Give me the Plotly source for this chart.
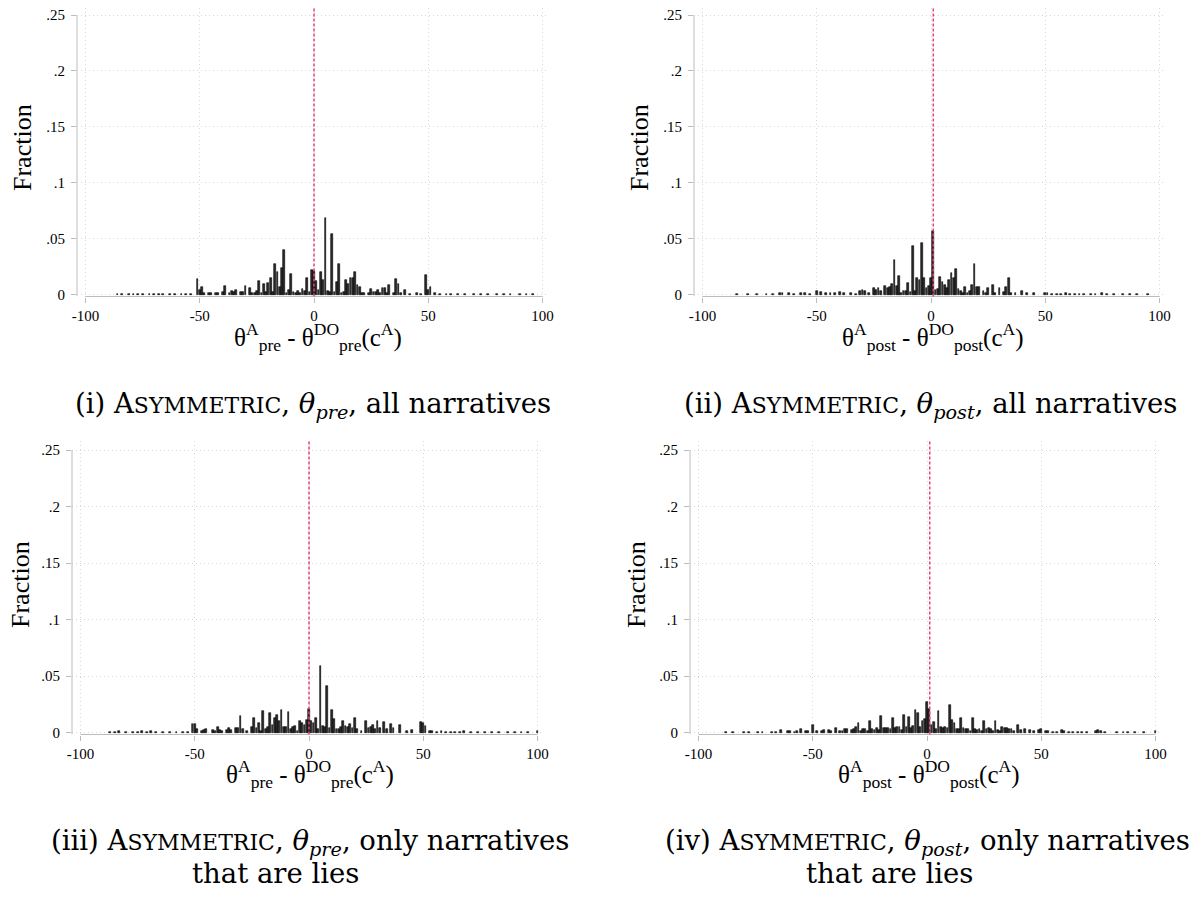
import plotly.graph_objects as go

# page is rendered inside <body> with an 8px default margin
OFF = 8
FW, FH = 1197 - 2 * OFF, 897 - 2 * OFF

# ---------------- data (fraction per integer bin) ----------------
p1_x = [-86, -84, -81, -79, -77, -75, -72, -70, -68, -66, -63, -61, -58, -56, -54,
        -51, -50, -49, -48, -46, -45, -43, -42, -40, -39, -37, -36, -35, -34, -32, -31, -30,
        -28, -27, -26, -25, -24, -23, -22, -21, -20, -19, -18, -17, -16, -15, -14, -13, -12,
        -11, -10, -9, -8, -7, -6, -5, -4, -3, -2, -1, 0, 1, 2, 3, 4, 5, 6, 7, 8, 9, 10, 11,
        12, 13, 14, 15, 16, 17, 18, 19, 20, 21, 22, 24, 25, 26, 27, 28, 29, 30, 31, 32, 33,
        35, 36, 37, 38, 40, 42, 45, 47, 49, 50, 51, 53, 55, 58, 60, 63, 66, 70, 73, 76, 80,
        83, 86, 90, 93, 96]
p1_y = [0.0005, 0.0008, 0.0005, 0.0008, 0.0008, 0.0005, 0.0008, 0.0005, 0.0008, 0.0005, 0.0008, 0.0005, 0.0008, 0.0005, 0.0008,
        0.0135, 0.0036, 0.0069, 0.001, 0.001, 0.001, 0.001, 0.0015, 0.002, 0.0078, 0.001, 0.0033, 0.002, 0.004, 0.0018, 0.002, 0.0075,
        0.0057, 0.001, 0.001, 0.0027, 0.0123, 0.001, 0.0096, 0.002, 0.0105, 0.0147, 0.002, 0.027, 0.0198, 0.0066, 0.024, 0.040, 0.001,
        0.004, 0.018, 0.002, 0.001, 0.003, 0.0015, 0.005, 0.0027, 0.015, 0.002, 0.022, 0.021, 0.012, 0.004, 0.020, 0.013, 0.068, 0.003, 0.002, 0.054, 0.002, 0.011, 0.0275,
        0.0015, 0.002, 0.013, 0.009, 0.0147, 0.0144, 0.020, 0.0084, 0.0066, 0.001, 0.0015, 0.001, 0.005, 0.002, 0.0024, 0.004, 0.001, 0.0054, 0.0054, 0.001, 0.0087,
        0.001, 0.0135, 0.0093, 0.001, 0.0036, 0.0008, 0.0012, 0.0008, 0.0177, 0.0036, 0.0063, 0.001, 0.0008, 0.0005, 0.0008, 0.0005, 0.0008, 0.0005, 0.0008, 0.0005, 0.0008,
        0.0005, 0.0008, 0.0005, 0.0008, 0.0005]

p2_x = [-85, -80, -76, -72, -69, -66, -65, -62, -60, -57, -55, -53,
        -50, -48, -46, -44, -42, -40, -38, -35, -33, -31, -30, -29, -27, -25, -24, -23, -22,
        -20, -19, -18, -17, -16, -15, -14, -13, -12, -11, -10, -9, -8, -7, -6, -5, -4, -3, -2,
        -1, 0, 1, 2, 3, 4, 5, 6, 7, 8, 9, 10, 11, 12, 13, 14, 15, 16, 17, 18, 19, 20, 21, 23,
        24, 25, 27, 28, 30, 32, 33, 34, 35, 37, 40, 42, 45, 50,
        51, 53, 55, 57, 59, 61, 63, 65, 67, 70, 72, 75, 77, 80, 84, 87, 90, 95]
p2_y = [0.0005, 0.0008, 0.0005, 0.0008, 0.0005, 0.0012, 0.0015, 0.001, 0.0008, 0.0015, 0.001, 0.0008,
        0.0035, 0.0018, 0.001, 0.001, 0.001, 0.0018, 0.001, 0.001, 0.0008, 0.0027, 0.0044, 0.0027, 0.001, 0.0056, 0.0044, 0.0056, 0.0027,
        0.0077, 0.006, 0.0068, 0.0098, 0.031, 0.008, 0.0169, 0.001, 0.0027, 0.003, 0.0104, 0.002, 0.043, 0.0027, 0.0148, 0.0127, 0.0465, 0.015, 0.006,
        0.0077, 0.015, 0.057, 0.004, 0.0053, 0.0154, 0.011, 0.0086, 0.006, 0.0127, 0.019, 0.0145, 0.0225, 0.0047, 0.003, 0.001, 0.007, 0.001, 0.0027, 0.0086, 0.027, 0.007, 0.007, 0.003,
        0.001, 0.006, 0.0086, 0.001, 0.0056, 0.0018, 0.0065, 0.0145, 0.001, 0.001, 0.0035, 0.001, 0.001, 0.0015,
        0.001, 0.0008, 0.0005, 0.0008, 0.0015, 0.0008, 0.0005, 0.0008, 0.0005, 0.0008, 0.0005, 0.0012, 0.0005, 0.0005, 0.0008, 0.0005, 0.0005, 0.0005]

p3_x = [-87, -85, -83, -80, -77, -75, -73, -71, -69, -67, -64, -61, -58, -55, -53,
        -51, -50, -49, -47, -46, -45, -42, -41, -40, -39, -38, -36, -35, -34, -32, -31, -30,
        -29, -27, -25, -24, -23, -22, -21, -20, -19, -18, -17, -16, -15, -14, -13, -12, -11,
        -10, -9, -8, -7, -6, -5, -4, -3, -2, -1, 0, 1, 2, 3, 4, 5, 6, 7, 8, 9, 10, 11, 12, 13,
        14, 15, 16, 17, 18, 19, 20, 21, 23, 25, 26, 27, 28, 29, 30, 31, 33, 34, 36, 37, 40,
        43, 45, 49, 50, 51, 53, 54, 56, 58, 60, 62, 64, 66, 68, 71, 74, 77, 80, 83, 87, 90,
        93, 96, 100]
p3_y = [0.0005, 0.0008, 0.001, 0.0005, 0.0008, 0.0005, 0.0015, 0.0005, 0.001, 0.0005, 0.0008, 0.0005, 0.0008, 0.0005, 0.0008,
        0.0071, 0.0071, 0.003, 0.0015, 0.002, 0.0027, 0.0024, 0.001, 0.005, 0.0024, 0.001, 0.002, 0.0036, 0.0024, 0.004, 0.0044, 0.0142,
        0.0027, 0.001, 0.005, 0.0127, 0.0036, 0.008, 0.001, 0.019, 0.003, 0.005, 0.0169, 0.0065, 0.0124, 0.0154, 0.0104, 0.0195, 0.0053,
        0.005, 0.0178, 0.0027, 0.005, 0.0056, 0.001, 0.0098, 0.008, 0.0065, 0.0107, 0.021, 0.0104, 0.008, 0.0124, 0.003, 0.059, 0.006, 0.0053, 0.041, 0.004, 0.0195, 0.0118, 0.003, 0.0027,
        0.005, 0.0098, 0.006, 0.0053, 0.0074, 0.0036, 0.013, 0.0027, 0.001, 0.0104, 0.004, 0.0053, 0.0062, 0.003, 0.01, 0.004, 0.009, 0.003, 0.0074, 0.0036, 0.007,
        0.001, 0.0024, 0.009, 0.008, 0.006, 0.0015, 0.001, 0.0005, 0.0015, 0.0005, 0.0008, 0.0005, 0.0008, 0.001, 0.0005, 0.0008, 0.0005, 0.0008, 0.0005, 0.0008, 0.0005,
        0.0008, 0.0005, 0.0015]

p4_x = [-88, -85, -80, -78, -74, -72, -68, -66, -64, -61, -60, -58, -57, -55, -53, -52,
        -50, -48, -46, -45, -43, -42, -40, -38, -37, -36, -35, -33, -32, -31, -30, -29, -28,
        -27, -26, -25, -24, -23, -22, -21, -20, -19, -18, -17, -16, -15, -14, -13, -12, -11,
        -10, -9, -8, -7, -6, -5, -4, -3, -2, -1, 0, 1, 2, 3, 4, 5, 6, 7, 8, 9, 10, 11, 12, 13,
        14, 15, 16, 17, 18, 19, 20, 21, 22, 23, 24, 25, 26, 27, 28, 29, 30, 31, 32, 33, 34, 35,
        36, 37, 38, 40, 41, 43, 45, 47, 49, 50,
        52, 53, 55, 57, 59, 60, 62, 64, 66, 68, 70, 74, 75, 76, 78, 83, 86, 88, 91, 95, 100]
p4_y = [0.0005, 0.0005, 0.0008, 0.0008, 0.0005, 0.0008, 0.0005, 0.0008, 0.0025, 0.001, 0.0015, 0.0008, 0.0012, 0.003, 0.001, 0.001,
        0.0068, 0.0012, 0.001, 0.002, 0.0018, 0.001, 0.0044, 0.001, 0.0015, 0.003, 0.003, 0.0024, 0.0033, 0.0047, 0.0083, 0.0015, 0.003,
        0.0027, 0.0015, 0.0098, 0.0033, 0.002, 0.0041, 0.002, 0.0142, 0.0044, 0.0038, 0.0036, 0.0033, 0.013, 0.0036, 0.005, 0.0053, 0.002,
        0.0154, 0.0047, 0.0136, 0.0041, 0.0059, 0.0198, 0.0172, 0.0047, 0.0104, 0.012, 0.027, 0.021, 0.0068, 0.0092, 0.003, 0.0192, 0.0047, 0.0044, 0.0053, 0.0041, 0.0246, 0.0115, 0.008, 0.003,
        0.003, 0.013, 0.0038, 0.003, 0.0033, 0.0015, 0.013, 0.0033, 0.0024, 0.003, 0.0015, 0.0104, 0.0033, 0.0044, 0.0027, 0.0015, 0.0098, 0.0024, 0.0015, 0.0053, 0.0036, 0.0044,
        0.003, 0.003, 0.001, 0.0068, 0.0024, 0.003, 0.002, 0.001, 0.002, 0.003,
        0.0012, 0.001, 0.0008, 0.0008, 0.0025, 0.001, 0.0008, 0.0008, 0.0005, 0.0008, 0.0005, 0.0015, 0.0025, 0.001, 0.0008, 0.0005, 0.0005, 0.0005, 0.0005, 0.0005, 0.001]

ref_lines = [0, 1, 0, 1.2]

y_ticks = [0, 0.05, 0.1, 0.15, 0.2, 0.25]
y_tick_text = ["0", ".05", ".1", ".15", ".2", ".25"]
x_ticks = [-100, -50, 0, 50, 100]
x_tick_text = ["-100", "-50", "0", "50", "100"]

sc = '<span style="font-size:22px">'
captions = [
    ["(i) A" + sc + "SYMMETRIC</span>, <i>θ<sub>pre</sub></i>, all narratives"],
    ["(ii) A" + sc + "SYMMETRIC</span>, <i>θ<sub>post</sub></i>, all narratives"],
    ["(iii) A" + sc + "SYMMETRIC</span>, <i>θ<sub>pre</sub></i>, only narratives", "that are lies"],
    ["(iv) A" + sc + "SYMMETRIC</span>, <i>θ<sub>post</sub></i>, only narratives", "that are lies"],
]
xtitles = [
    "θ<sup>A</sup><sub>pre</sub> - θ<sup>DO</sup><sub>pre</sub>(c<sup>A</sup>)",
    "θ<sup>A</sup><sub>post</sub> - θ<sup>DO</sup><sub>post</sub>(c<sup>A</sup>)",
    "θ<sup>A</sup><sub>pre</sub> - θ<sup>DO</sup><sub>pre</sub>(c<sup>A</sup>)",
    "θ<sup>A</sup><sub>post</sub> - θ<sup>DO</sup><sub>post</sub>(c<sup>A</sup>)",
]
data = [(p1_x, p1_y), (p2_x, p2_y), (p3_x, p3_y), (p4_x, p4_y)]

# ---------------- geometry (page pixels) ----------------
geo = [
    dict(yl=77, xm=85.5, xp=542.5, y0=294.5, y25=15, top=8, frac=(22, 148), xt=(318, 337), cap=[(313, 405)]),
    dict(yl=694, xm=702.5, xp=1159.5, y0=294.5, y25=15, top=8, frac=(639, 148), xt=(932, 337), cap=[(930, 405)]),
    dict(yl=72, xm=80.5, xp=537.5, y0=732.5, y25=450, top=441, frac=(20, 585), xt=(310, 774), cap=[(310, 842), (275, 873)]),
    dict(yl=690, xm=698.5, xp=1155.5, y0=732.5, y25=450, top=441, frac=(636, 585), xt=(928, 774), cap=[(927, 842), (889, 873)]),
]


def px(x):
    return (x - OFF) / FW


def py(y):
    return 1 - (y - OFF) / FH


fig = go.Figure()
layout = dict(width=FW, height=FH, margin=dict(l=0, r=0, t=0, b=0, autoexpand=False),
              paper_bgcolor="white", plot_bgcolor="white", showlegend=False,
              bargap=0, shapes=[], annotations=[])

AX = "#bcbcbc"
GRID = "#d9d9d9"
SERIF = "Liberation Serif, Times New Roman, serif"
TICKFONT = dict(family=SERIF, size=15, color="black")

for i, (g, (xs, ys)) in enumerate(zip(geo, data)):
    n = "" if i == 0 else str(i + 1)
    ppu = (g["xp"] - g["xm"]) / 200.0
    right = g["xp"] + 3.5
    xr = [-100 - (g["xm"] - g["yl"]) / ppu, 100 + (right - g["xp"]) / ppu]
    yppu = (g["y0"] - g["y25"]) / 0.25
    bottom = g["y0"] + 2
    yr = [-(bottom - g["y0"]) / yppu, 0.25 + (g["y25"] - g["top"]) / yppu]

    fig.add_trace(go.Bar(x=xs, y=ys, width=0.8, xaxis="x" + n, yaxis="y" + n,
                         marker=dict(color="#2a2a2a", line=dict(color="black", width=0.6))))

    layout["xaxis" + n] = dict(domain=[px(g["yl"]), px(right)], range=xr, anchor="y" + n,
                               tickmode="array", tickvals=x_ticks, ticktext=x_tick_text,
                               showgrid=True, gridcolor=GRID, griddash="1px,3px", gridwidth=1,
                               zeroline=False, showline=False, ticks="outside", ticklen=5,
                               tickcolor=AX, tickfont=TICKFONT, fixedrange=True,
                               ticklabeloverflow="allow")
    layout["yaxis" + n] = dict(domain=[py(bottom), py(g["top"])], range=yr, anchor="x" + n,
                               tickmode="array", tickvals=y_ticks, ticktext=y_tick_text,
                               showgrid=True, gridcolor=GRID, griddash="1px,3px", gridwidth=1,
                               zeroline=False, showline=False, ticks="outside", ticklen=5,
                               tickcolor=AX, tickfont=TICKFONT, fixedrange=True,
                               ticklabeloverflow="allow", ticklabelstandoff=3)
    xa, ya = "x" + n, "y" + n
    # axis lines
    layout["shapes"].append(dict(type="line", xref=xa + " domain", yref=ya, x0=0, x1=0,
                                 y0=yr[0], y1=0.25, line=dict(color=AX, width=1)))
    layout["shapes"].append(dict(type="line", xref=xa, yref=ya + " domain", x0=-100, x1=100,
                                 y0=0, y1=0, line=dict(color=AX, width=1)))
    # reference line
    layout["shapes"].append(dict(type="line", xref=xa, yref=ya + " domain", x0=ref_lines[i], x1=ref_lines[i],
                                 y0=0, y1=1, line=dict(color="#e8437a", width=1.5, dash="3px,2px")))
    # y title
    layout["annotations"].append(dict(text="Fraction", x=px(g["frac"][0]), y=py(g["frac"][1]),
                                      xref="paper", yref="paper", showarrow=False, textangle=-90,
                                      xanchor="center", yanchor="middle",
                                      font=dict(family=SERIF, size=26, color="black")))
    # x title
    layout["annotations"].append(dict(text=xtitles[i], x=px(g["xt"][0]), y=py(g["xt"][1]),
                                      xref="paper", yref="paper", showarrow=False,
                                      xanchor="center", yanchor="middle",
                                      font=dict(family=SERIF, size=25, color="black")))
    # captions
    for line, (cx, cy) in zip(captions[i], g["cap"]):
        layout["annotations"].append(dict(text=line, x=px(cx), y=py(cy),
                                          xref="paper", yref="paper", showarrow=False,
                                          xanchor="center", yanchor="middle",
                                          font=dict(family="DejaVu Serif", size=27.5, color="black")))

fig.update_layout(**layout)
fig.write_html("out.html")
